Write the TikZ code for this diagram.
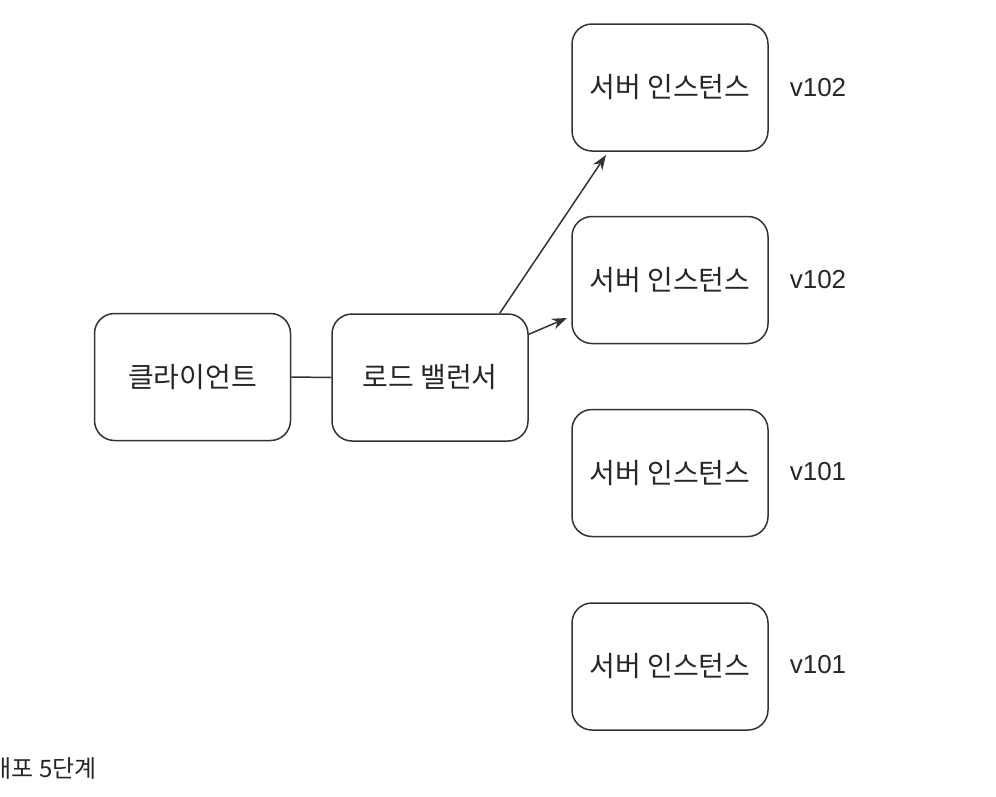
\documentclass[tikz,border=0pt]{standalone}
\usepackage{fontspec}
\setmainfont{Noto Sans CJK KR}
\newfontfamily\latinfont{Liberation Sans}
\usetikzlibrary{arrows.meta}
\definecolor{ink}{HTML}{333333}
\tikzset{
  box/.style={draw=ink, line width=1.5pt, rounded corners=20pt, minimum width=196pt, minimum height=127pt, inner sep=0pt, font=\fontsize{28}{32}\selectfont, text=black!85},
  ver/.style={font=\latinfont\fontsize{26}{30}\selectfont, text=black!85},
  conn/.style={draw=ink, line width=1.5pt},
  arr/.style={conn, -{Stealth[length=15pt,width=11pt]}}
}
\begin{document}
\begin{tikzpicture}[x=1pt,y=-1pt]
\useasboundingbox (0,0) rectangle (996,796);
\clip (0,0) rectangle (996,796);
\node[box] (client) at (192.5,377) {클라이언트};
\node[box] (lb) at (430,377.5) {로드 밸런서};
\node[box] (s1) at (670,87.5) {서버 인스턴스};
\node[box] (s2) at (670,280) {서버 인스턴스};
\node[box] (s3) at (670,473) {서버 인스턴스};
\node[box] (s4) at (670,666.5) {서버 인스턴스};
\node[ver] (v1) at (818,88) {v102};
\node[ver] (v2) at (818,280) {v102};
\node[ver] (v3) at (818,472) {v101};
\node[ver] (v4) at (818,665) {v101};
\draw[conn] (client.east) -- (lb.west);
\coordinate (t1) at (606,155);
\coordinate (t2) at (567,318);
\draw[arr] (lb.north east) ++(-29,0) -- (t1);
\draw[arr] ([yshift=-21pt]lb.north east) -- (t2);
\node[anchor=west, font=\fontsize{24}{27}\selectfont, text=black!85] (cap) at (-14,768) {배포 5단계};
\end{tikzpicture}
\end{document}
